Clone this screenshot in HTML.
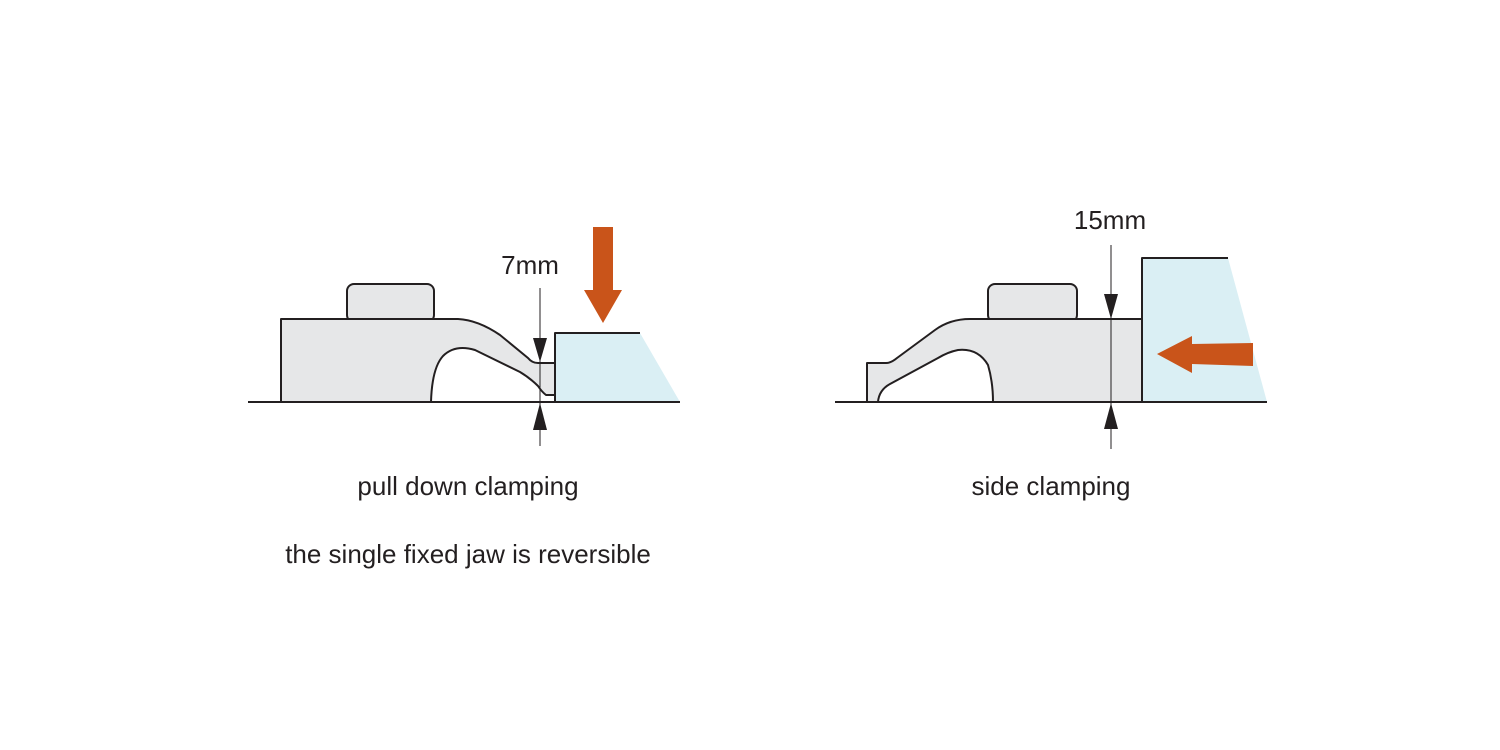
<!DOCTYPE html>
<html><head><meta charset="utf-8"><style>
html,body{margin:0;padding:0;background:#fff;}
svg{display:block}
text{font-family:"Liberation Sans",sans-serif;fill:#231f20;font-size:26px}
</style></head><body>
<svg width="1500" height="750" viewBox="0 0 1500 750" xmlns="http://www.w3.org/2000/svg">
<g stroke="#231f20" stroke-width="2" stroke-linejoin="round">
<rect x="347" y="284" width="87" height="38" rx="7" fill="#e6e7e8"/>
<path d="M281,402 L281,319 L458,319 Q478,320 500,335 L528,358 Q532,363 538,363 L555,363 L555,395 L546,395 Q542,392 538,386 Q530,378 520,372 L475,350 Q455,344 443,356 Q432,368 431,402 Z" fill="#e6e7e8"/>
<path d="M555,333 L640,333 L680,402 L555,402 Z" fill="#daeff4" stroke="none"/>
<path d="M555,402 L555,333 L640,333" fill="none"/>
<line x1="248" y1="402" x2="680" y2="402"/>
</g>
<line x1="540" y1="288" x2="540" y2="446" stroke="#231f20" stroke-width="1"/>
<path d="M533,338 L547,338 L540,362 Z" fill="#231f20"/>
<path d="M533,430 L547,430 L540,403 Z" fill="#231f20"/>
<path d="M593,227 L613,227 L613,290 L622,290 L603,323 L584,290 L593,290 Z" fill="#c9541a"/>
<text x="530" y="274" text-anchor="middle">7mm</text>
<g stroke="#231f20" stroke-width="2" stroke-linejoin="round">
<rect x="988" y="284" width="89" height="38" rx="7" fill="#e6e7e8"/>
<path d="M867,402 L867,363 L886,363 Q891,363 897,358 L935,330 Q950,319 970,319 L1142,319 L1142,402 L993,402 Q993,382 988,365 Q978,348 958,350 Q948,352 938,358 L890,384 Q879,390 878,402 Z" fill="#e6e7e8"/>
<path d="M1142,258 L1228,258 L1267,402 L1142,402 Z" fill="#daeff4" stroke="none"/>
<path d="M1142,402 L1142,258 L1228,258" fill="none"/>
<line x1="835" y1="402" x2="1267" y2="402"/>
</g>
<line x1="1111" y1="245" x2="1111" y2="449" stroke="#231f20" stroke-width="1"/>
<path d="M1104,294 L1118,294 L1111,319 Z" fill="#231f20"/>
<path d="M1104,429 L1118,429 L1111,403 Z" fill="#231f20"/>
<path d="M1157,354 L1192,336 L1192,344 L1253,343 L1253,366 L1192,364 L1192,373 Z" fill="#c9541a"/>
<text x="1110" y="229" text-anchor="middle">15mm</text>
<text x="468" y="495" text-anchor="middle">pull down clamping</text>
<text x="1051" y="495" text-anchor="middle">side clamping</text>
<text x="468" y="563" text-anchor="middle">the single fixed jaw is reversible</text>
</svg>
</body></html>
